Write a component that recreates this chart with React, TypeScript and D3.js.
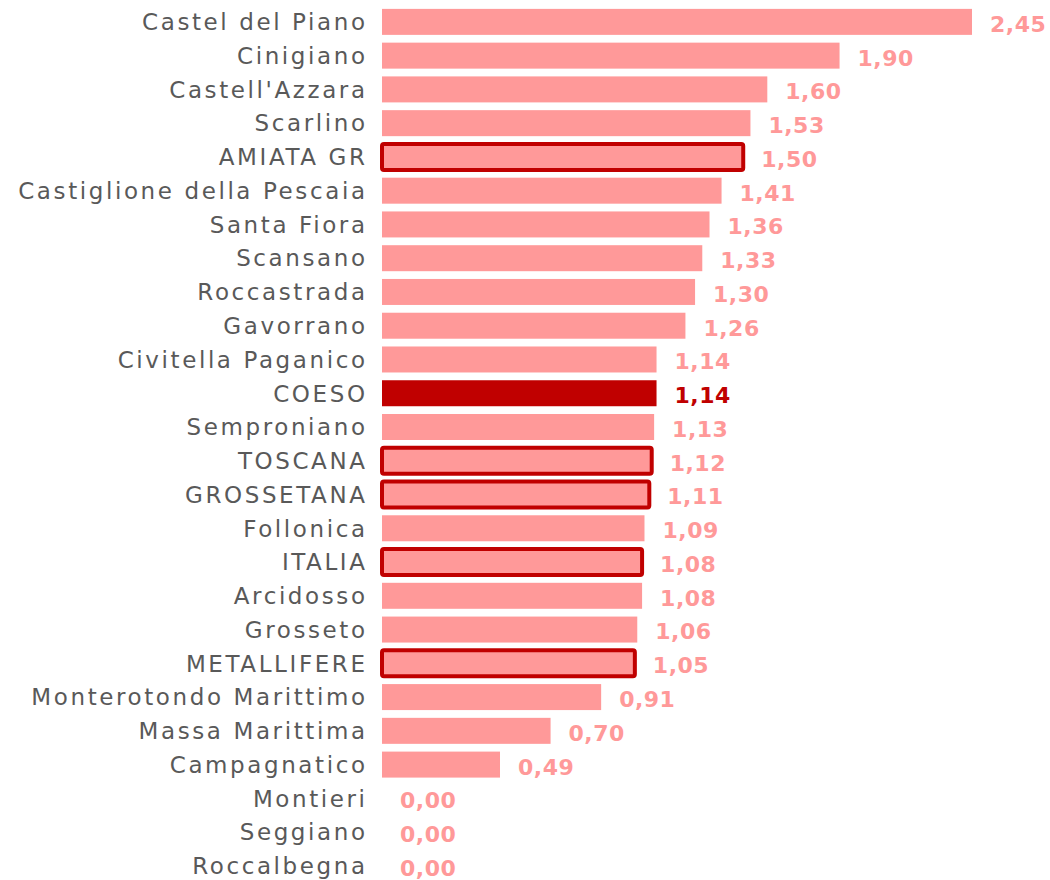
import React, { useEffect, useRef } from "react";
import * as d3 from "d3";

// rows top to bottom
const categories = [
  "Castel del Piano",
  "Cinigiano",
  "Castell'Azzara",
  "Scarlino",
  "AMIATA GR",
  "Castiglione della Pescaia",
  "Santa Fiora",
  "Scansano",
  "Roccastrada",
  "Gavorrano",
  "Civitella Paganico",
  "COESO",
  "Semproniano",
  "TOSCANA",
  "GROSSETANA",
  "Follonica",
  "ITALIA",
  "Arcidosso",
  "Grosseto",
  "METALLIFERE",
  "Monterotondo Marittimo",
  "Massa Marittima",
  "Campagnatico",
  "Montieri",
  "Seggiano",
  "Roccalbegna",
];

const values = [
  2.45, 1.9, 1.6, 1.53, 1.5, 1.41, 1.36, 1.33, 1.3, 1.26, 1.14, 1.14, 1.13,
  1.12, 1.11, 1.09, 1.08, 1.08, 1.06, 1.05, 0.91, 0.7, 0.49, 0, 0, 0,
];

// aggregate areas drawn with an outline
const outlined = ["AMIATA GR", "TOSCANA", "GROSSETANA", "ITALIA", "METALLIFERE"];
const highlighted = ["COESO"];

const PINK = "#ff9999";
const DARK = "#c00000";
const FONT = "'DejaVu Sans', sans-serif";

export default function App() {
  const svgRef = useRef<SVGSVGElement>(null);

  useEffect(() => {
    const width = 1050;
    const height = 880;
    const left = 382;

    const svg = d3.select(svgRef.current);
    svg.selectAll("*").remove();

    const data = categories.map((c, i) => ({ name: c, value: values[i] }));

    const x = d3.scaleLinear().domain([0, 2.45]).range([left, 972]);
    const y = d3
      .scaleBand()
      .domain(categories)
      .range([5, 5 + 33.76 * categories.length])
      .paddingInner(0.23)
      .paddingOuter(0.115);

    const rows = svg
      .selectAll("g.row")
      .data(data)
      .join("g")
      .attr("class", "row");

    // category labels (wide letter spacing to mimic the original face)
    rows
      .append("text")
      .attr("x", left - 17 + 2.6)
      .attr("y", (d) => y(d.name)! + y.bandwidth() / 2)
      .attr("dy", "0.36em")
      .attr("text-anchor", "end")
      .attr("font-family", FONT)
      .attr("font-size", 23)
      .attr("letter-spacing", 2.6)
      .attr("fill", "#595959")
      .text((d) => d.name);

    // bars
    rows
      .filter((d) => d.value > 0)
      .append("rect")
      .attr("x", x(0))
      .attr("y", (d) => y(d.name)!)
      .attr("width", (d) => x(d.value) - x(0))
      .attr("height", y.bandwidth())
      .attr("rx", (d) => (outlined.includes(d.name) ? 2 : 0))
      .attr("fill", (d) => (highlighted.includes(d.name) ? DARK : PINK))
      .attr("stroke", (d) => (outlined.includes(d.name) ? DARK : "none"))
      .attr("stroke-width", 4);

    // value labels
    rows
      .append("text")
      .attr("x", (d) => x(d.value) + 18)
      .attr("y", (d) => y(d.name)! + y.bandwidth() / 2 + 2)
      .attr("dy", "0.36em")
      .attr("font-family", FONT)
      .attr("font-weight", "bold")
      .attr("font-size", 22)
      .attr("letter-spacing", 0.5)
      .attr("fill", (d) => (highlighted.includes(d.name) ? DARK : PINK))
      .text((d) => d3.format(".2f")(d.value).replace(".", ","));

    svg.attr("width", width).attr("height", height);
  }, []);

  return (
    <svg
      ref={svgRef}
      style={{ position: "absolute", left: 0, top: 0, display: "block" }}
    ></svg>
  );
}
